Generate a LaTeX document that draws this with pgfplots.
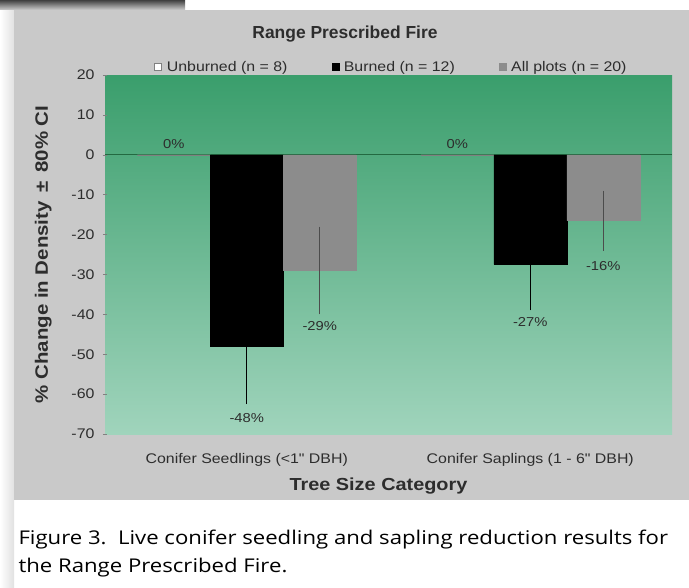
\documentclass[border=0pt]{standalone}
\usepackage{pgfplots}
\pgfplotsset{compat=1.18}
\usepackage{fontspec}
\setmainfont{Liberation Sans}
\newfontfamily\wide[FakeStretch=1.14]{Liberation Sans}
\newfontfamily\capfont[FakeStretch=1.17]{Open Sans}
\definecolor{panel}{RGB}{201,201,201}
\definecolor{gtop}{RGB}{58,158,108}
\definecolor{gbot}{RGB}{160,212,188}
\definecolor{allgray}{RGB}{140,140,140}
\definecolor{zeroline}{RGB}{35,105,65}
\definecolor{txt}{RGB}{45,45,45}
\begin{document}
\begin{tikzpicture}
\useasboundingbox (0,0) rectangle (689bp,-588bp);
\fill[white] (0,0) rectangle (689bp,-588bp);
\shade[left color=white, right color=black!12] (0,-10bp) rectangle (14bp,-588bp);
\shade[top color=black!75, bottom color=black!25] (0,0) rectangle (185bp,-9bp);
\fill[panel] (14bp,-10bp) rectangle (689bp,-500bp);
\node[font=\bfseries\fontsize{17.5}{20}\selectfont, text=txt] at (345bp,-34bp) {Range Prescribed Fire};
\begin{axis}[
  at={(105bp,-434bp)}, anchor=south west,
  scale only axis, width=567bp, height=359bp,
  xmin=-0.5, xmax=1.5, ymin=-70, ymax=20,
  ytick={-70,-60,...,20},
  xtick={0,1},
  xticklabels={Conifer Seedlings (<1" DBH), Conifer Saplings (1 - 6" DBH)},
  x tick style={draw=none},
  y tick style={draw=gray, thin},
  ytick pos=left,
  tick align=center, major tick length=4bp,
  axis line style={draw=none},
  axis background/.style={shade, top color=gtop, bottom color=gbot},
  /pgf/number format/assume math mode=true,
  yticklabel style={font=\wide\fontsize{14}{16}\selectfont, text=txt, xshift=-5bp},
  xticklabel style={font=\wide\fontsize{14}{16}\selectfont, text=txt, yshift=-12bp},
  ylabel={\% Change in Density \,±\, 80\% CI},
  ylabel style={font=\wide\bfseries\fontsize{18}{21}\selectfont, text=txt, at={(axis description cs:-0.109,0.5)}, anchor=center},
  xlabel={Tree Size Category},
  xlabel style={font=\wide\bfseries\fontsize{17.5}{20}\selectfont, text=txt, yshift=-4bp, xshift=-10bp},
  ybar=0pt, bar width=73bp,
  legend columns=3,
  legend style={at={(0.5,1)}, anchor=south, yshift=-2bp, xshift=3bp, draw=none, fill=none,
    font=\wide\fontsize{14}{16}\selectfont, text=txt,
    /tikz/every odd column/.append style={column sep=3bp},
    /tikz/every even column/.append style={column sep=42bp}},
  legend image code/.code={\draw[#1, ybar=0pt] (0bp,-3.5bp) rectangle (7bp,3.5bp);},
  extra y ticks={0}, extra y tick labels={},
  extra y tick style={grid=major, major grid style={draw=zeroline, line width=0.8pt}},
]
\addplot[fill=white, draw=gray] coordinates {(0,0) (1,0)};
\addplot[fill=black, draw=black,
  error bars/.cd, y dir=both, y explicit, error mark=none,
  error bar style={black, line width=1pt}]
  coordinates {(0,-48) +- (0,14.5) (1,-27.5) +- (0,11.5)};
\addplot[fill=allgray, draw=allgray,
  error bars/.cd, y dir=both, y explicit, error mark=none,
  error bar style={black!70, line width=0.6pt}]
  coordinates {(0,-29) +- (0,11) (1,-16.5) +- (0,7.5)};
\legend{Unburned (n = 8), Burned (n = 12), All plots (n = 20)}
\node[font=\wide\fontsize{13}{15}\selectfont, text=txt] at (axis cs:-0.2575,2.6) {0\%};
\node[font=\wide\fontsize{13}{15}\selectfont, text=txt] at (axis cs:0.7425,2.6) {0\%};
\node[font=\wide\fontsize{13}{15}\selectfont, text=txt] at (axis cs:0,-66) {-48\%};
\node[font=\wide\fontsize{13}{15}\selectfont, text=txt] at (axis cs:0.2575,-43) {-29\%};
\node[font=\wide\fontsize{13}{15}\selectfont, text=txt] at (axis cs:1,-41.8) {-27\%};
\node[font=\wide\fontsize{13}{15}\selectfont, text=txt] at (axis cs:1.2575,-27.8) {-16\%};
\end{axis}
\node[anchor=west, font=\capfont\fontsize{19}{22}\selectfont] at (15bp,-540bp) {Figure 3.\ \ Live conifer seedling and sapling reduction results for};
\node[anchor=west, font=\capfont\fontsize{19}{22}\selectfont] at (15bp,-568bp) {the Range Prescribed Fire.};
\end{tikzpicture}
\end{document}
